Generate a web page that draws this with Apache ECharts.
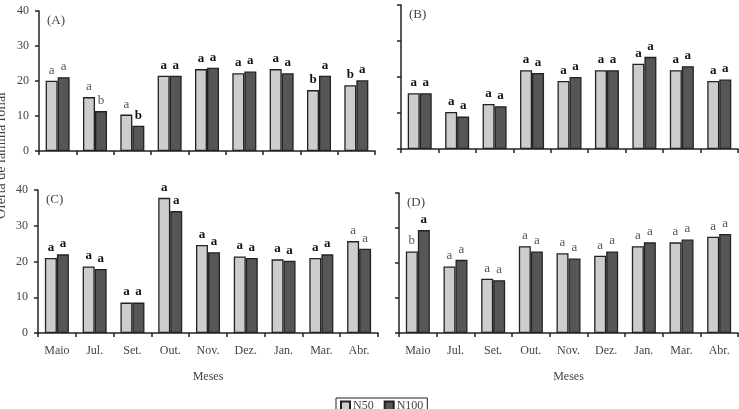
<!DOCTYPE html>
<html><head><meta charset="utf-8">
<script src="https://cdn.jsdelivr.net/npm/echarts@6/dist/echarts.min.js"></script>
<style>html,body{margin:0;padding:0;background:#fff}#c{width:739px;height:409px}</style>
</head><body><div id="c"></div>
<script>
const months = ['Maio','Jul.','Set.','Out.','Nov.','Dez.','Jan.','Mar.','Abr.'];
const seriesNames = ['N50','N100'];
const panelTitles = ['(A)','(B)','(C)','(D)'];
const yAxisTitle = 'Oferta de lâmina foliar';
const xAxisTitle = 'Meses';

const A_N50  = [20.1,15.4,10.4,21.5,23.4,22.2,23.4,17.4,18.8];
const A_N100 = [21.1,11.4,7.2,21.5,23.8,22.7,22.2,21.5,20.2];
const B_N50  = [15.5,10.3,12.5,21.9,18.9,21.9,23.7,21.9,18.9];
const B_N100 = [15.5,9.0,11.9,21.1,20.0,21.9,25.6,23.0,19.3];
const C_N50  = [21.0,18.6,8.5,37.8,24.6,21.4,20.6,21.0,25.7];
const C_N100 = [22.0,17.9,8.5,34.1,22.6,21.0,20.2,22.0,23.6];
const D_N50  = [23.3,19.0,15.5,24.8,22.8,22.1,24.8,25.9,27.5];
const D_N100 = [29.4,20.9,15.1,23.3,21.3,23.3,25.9,26.7,28.3];

const A_L50  = ['a','a','a','a','a','a','a','b','b'];
const A_L100 = ['a','b','b','a','a','a','a','a','a'];
const B_L50  = ['a','a','a','a','a','a','a','a','a'];
const B_L100 = ['a','a','a','a','a','a','a','a','a'];
const C_L50  = ['a','a','a','a','a','a','a','a','a'];
const C_L100 = ['a','a','a','a','a','a','a','a','a'];
const D_L50  = ['b','a','a','a','a','a','a','a','a'];
const D_L100 = ['a','a','a','a','a','a','a','a','a'];

// which letters are printed in the lighter (regular) style
const regular = {
  A: [[0,1,2],[0,1]],
  B: [[],[]],
  C: [[8],[8]],
  D: [[0,1,2,3,4,5,6,7,8],[1,2,3,4,5,6,7,8]]
};

const FONT = '"Liberation Serif", "DejaVu Serif", serif';
const AX = '#222';
const TXT = '#444';
const colors = ['#cdcdcd','#565656'];

const panels = [
  {key:'A', n50:A_N50, n100:A_N100, l50:A_L50, l100:A_L100, grid:{left:39, top:11, width:336, height:140}, yl:true, xl:false},
  {key:'B', n50:B_N50, n100:B_N100, l50:B_L50, l100:B_L100, grid:{left:401, top:5, width:337, height:144}, yl:false, xl:false},
  {key:'C', n50:C_N50, n100:C_N100, l50:C_L50, l100:C_L100, grid:{left:38, top:190, width:340, height:143}, yl:true, xl:true},
  {key:'D', n50:D_N50, n100:D_N100, l50:D_L50, l100:D_L100, grid:{left:399, top:193, width:339, height:140}, yl:false, xl:true}
];

const grid = [], xAxis = [], yAxis = [], series = [], graphic = [];
panels.forEach((p, i) => {
  grid.push(Object.assign({containLabel:false}, p.grid));
  xAxis.push({
    type:'category', gridIndex:i, data:months,
    axisLine:{show:true, lineStyle:{color:AX, width:1.5}},
    axisTick:{show:true, length:4, lineStyle:{color:AX, width:1.5}},
    axisLabel:{show:p.xl, color:TXT, fontFamily:FONT, fontSize:12, margin:12},
    name: p.xl ? xAxisTitle : '', nameLocation:'middle', nameGap:38,
    nameTextStyle:{color:TXT, fontFamily:FONT, fontSize:12}
  });
  yAxis.push({
    type:'value', gridIndex:i, min:0, max:40, interval:10,
    splitLine:{show:false},
    axisLine:{show:true, lineStyle:{color:AX, width:1.5}},
    axisTick:{show:true, length:4, lineStyle:{color:AX, width:1.5}},
    axisLabel:{show:p.yl, color:TXT, fontFamily:FONT, fontSize:12, margin:10}
  });
  const sets = [[p.n50, p.l50], [p.n100, p.l100]];
  sets.forEach((s, k) => {
    const reg = regular[p.key][k];
    series.push({
      type:'bar', name:seriesNames[k], xAxisIndex:i, yAxisIndex:i,
      data:s[0], barWidth:12, barGap:'0%',
      itemStyle:{color:colors[k], borderColor:AX, borderWidth:1.3},
      label:{
        show:true, position:'top', distance:4,
        formatter:(prm) => (reg.indexOf(prm.dataIndex) >= 0 ? '{r|' : '{b|') + s[1][prm.dataIndex] + '}',
        rich:{
          r:{fontFamily:FONT, fontSize:13, color:'#555', fontWeight:'normal'},
          b:{fontFamily:FONT, fontSize:13, color:'#111', fontWeight:'bold'}
        }
      }
    });
  });
  graphic.push({type:'text', left:p.grid.left + 8, top:p.grid.top + 3,
    style:{text:panelTitles[i], font:'13px ' + FONT, fill:TXT}});
});

graphic.push({type:'text', x:-6, y:155, rotation:Math.PI/2,
  style:{text:yAxisTitle, font:'14px ' + FONT, fill:TXT, align:'center', verticalAlign:'top'}});

const chart = echarts.init(document.getElementById('c'), null, {renderer:'canvas'});
chart.setOption({
  animation:false,
  backgroundColor:'#fff',
  grid, xAxis, yAxis, series, graphic,
  legend:{
    data:seriesNames, left:336, top:398, orient:'horizontal',
    itemWidth:9, itemHeight:9, itemGap:10, padding:[2,4,2,4],
    borderColor:AX, borderWidth:1, icon:'rect',
    textStyle:{fontFamily:FONT, fontSize:12, color:TXT, padding:[0,0,0,-2]}
  }
});
</script></body></html>
